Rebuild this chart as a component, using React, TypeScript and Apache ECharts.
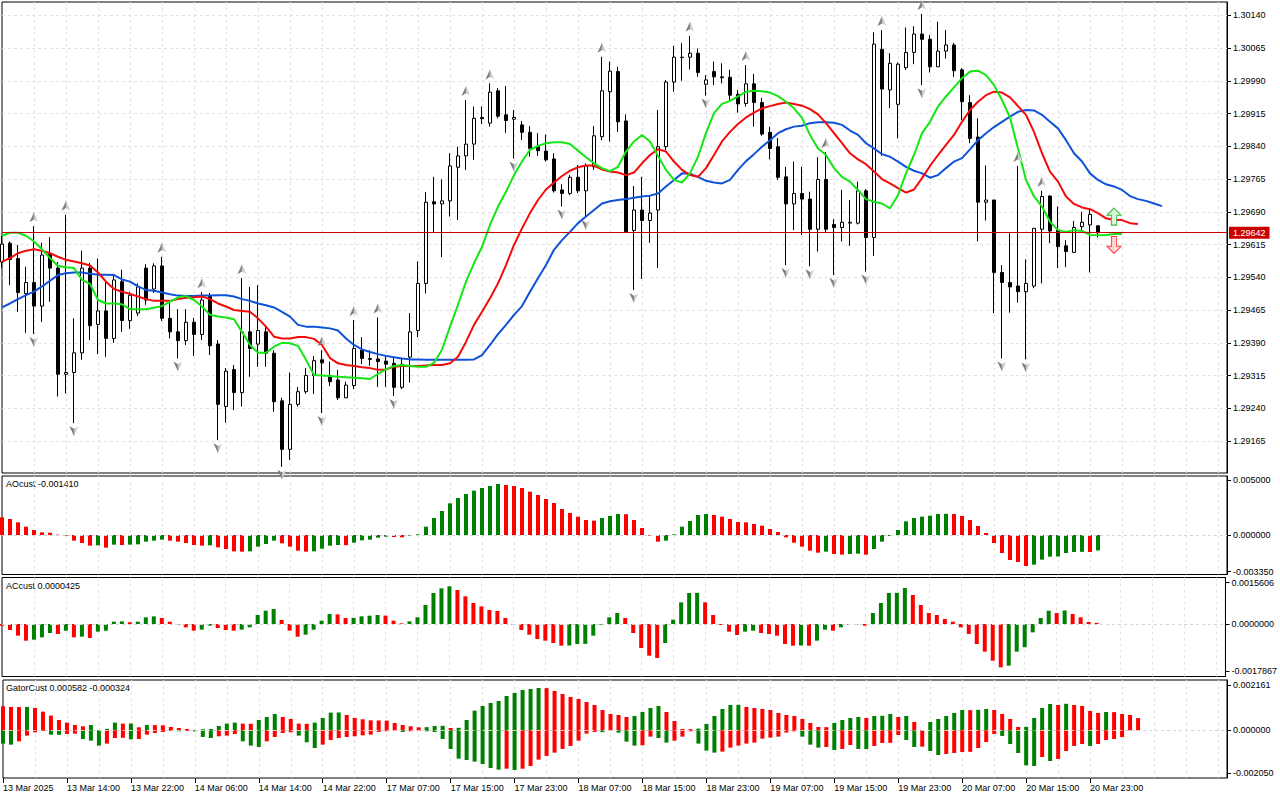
import React, { useEffect, useRef } from "react";
import * as echarts from "echarts";

const xTickLabels = ["13 Mar 2025","13 Mar 14:00","13 Mar 22:00","14 Mar 06:00","14 Mar 14:00","14 Mar 22:00","17 Mar 07:00","17 Mar 15:00","17 Mar 23:00","18 Mar 07:00","18 Mar 15:00","18 Mar 23:00","19 Mar 07:00","19 Mar 15:00","19 Mar 23:00","20 Mar 07:00","20 Mar 15:00","20 Mar 23:00"];
const xTickIndex = [0,8,16,24,32,40,48,56,64,72,80,88,96,104,112,120,128,136];
const xGridIndex = [4,8,12,16,20,24,28,32,36,40,44,48,52,56,60,64,68,72,76,80,84,88,92,96,100,104,108,112,116,120,124,128,132,136,140,144,148,152];
const priceTicks = [1.29165,1.2924,1.29315,1.2939,1.29465,1.2954,1.29615,1.2969,1.29765,1.2984,1.29915,1.2999,1.30065,1.3014];
const aoTicks = [0.005, 0, -0.00335];
const acTicks = [0.0015606, 0, -0.0017867];
const gatorTicks = [0.002161, 0, -0.00205];

const openP = [
1.29575,1.29618,1.29583,1.29503,1.29528,1.29474,1.29593,1.29561,1.29318,1.29322,
1.29367,1.29561,1.29432,1.29463,1.29400,1.29530,1.29441,1.29458,1.29561,1.29513,
1.29566,1.29446,1.29415,1.29395,1.29437,1.29409,1.29496,1.29387,1.29244,1.29329,
1.29276,1.29415,1.29387,1.29415,1.29366,1.29257,1.29146,1.29249,1.29278,1.29315,
1.29351,1.29315,1.29305,1.29264,1.29292,1.29373,1.29354,1.29353,1.29348,1.29343,
1.29288,1.29357,1.29418,1.29526,1.29713,1.29708,1.29715,1.29792,1.29818,1.29845,
1.29906,1.29893,1.29967,1.29912,1.29902,1.29889,1.29872,1.29839,1.29829,1.29811,
1.29740,1.29732,1.29769,1.29738,1.29793,1.29862,1.29965,1.30011,1.29898,1.29647,
1.29694,1.29670,1.29694,1.29839,1.29987,1.30043,1.30044,1.30053,1.29982,1.30011,
1.29999,1.29998,1.29959,1.29938,1.29983,1.29940,1.29872,1.29839,1.29770,1.29708,
1.29732,1.29719,1.29650,1.29764,1.29661,1.29654,1.29664,1.29664,1.29738,1.29631,
1.30062,1.29969,1.29936,1.30020,1.30055,1.30097,1.30085,1.30022,1.30058,1.30072,
1.30015,1.29940,1.29861,1.29712,1.29717,1.29551,1.29528,1.29520,1.29507,1.29520,
1.29650,1.29726,1.29648,1.29612,1.29597,1.29656,1.29660,1.29658];
const closeP = [
1.29616,1.29581,1.29505,1.29528,1.29474,1.29591,1.29561,1.29318,1.29322,1.29367,
1.29561,1.29429,1.29463,1.29400,1.29534,1.29441,1.29499,1.29518,1.29488,1.29566,
1.29446,1.29415,1.29395,1.29437,1.29409,1.29488,1.29383,1.29249,1.29325,1.29276,
1.29415,1.29377,1.29418,1.29366,1.29255,1.29146,1.29249,1.29278,1.29315,1.29349,
1.29344,1.29301,1.29264,1.29293,1.29377,1.29354,1.29352,1.29347,1.29341,1.29288,
1.29341,1.29415,1.29526,1.29712,1.29708,1.29715,1.29795,1.29818,1.29845,1.29904,
1.29903,1.29964,1.29909,1.29899,1.29906,1.29872,1.29835,1.29830,1.29809,1.29738,
1.29732,1.29769,1.29738,1.29795,1.29864,1.29967,1.30012,1.29896,1.29644,1.29694,
1.29670,1.29687,1.29839,1.29987,1.30044,1.30044,1.30053,1.30009,1.29992,1.29999,
1.29997,1.29957,1.29937,1.29983,1.29940,1.29868,1.29835,1.29769,1.29708,1.29732,
1.29719,1.29650,1.29764,1.29650,1.29654,1.29666,1.29666,1.29738,1.29631,1.30074,
1.29971,1.30030,1.30028,1.30055,1.30097,1.30085,1.30022,1.30058,1.30072,1.30013,
1.29942,1.29858,1.29712,1.29717,1.29551,1.29528,1.29518,1.29507,1.29526,1.29652,
1.29725,1.29646,1.29610,1.29599,1.29654,1.29666,1.29684,1.29642];
const highP = [
1.29635,1.29622,1.29614,1.29564,1.29657,1.29619,1.29632,1.29575,1.29683,1.29446,
1.29601,1.29573,1.29583,1.29534,1.29548,1.29557,1.29507,1.29526,1.29570,1.29572,
1.29587,1.29481,1.29467,1.29467,1.29447,1.29506,1.29504,1.29396,1.29332,1.29339,
1.29538,1.29518,1.29522,1.29427,1.29373,1.29264,1.29322,1.29289,1.29332,1.29360,
1.29373,1.29347,1.29328,1.29301,1.29442,1.29403,1.29373,1.29448,1.29362,1.29355,
1.29353,1.29458,1.29576,1.29735,1.29770,1.29764,1.29824,1.29839,1.29946,1.29931,
1.29931,1.29984,1.29973,1.29978,1.29923,1.29898,1.29886,1.29870,1.29867,1.29824,
1.29753,1.29774,1.29797,1.29801,1.29886,1.30045,1.30034,1.30022,1.29913,1.29749,
1.29770,1.29728,1.29923,1.29992,1.30070,1.30076,1.30093,1.30064,1.30003,1.30034,
1.30030,1.30015,1.29969,1.30026,1.30006,1.29951,1.29885,1.29859,1.29793,1.29805,
1.29793,1.29736,1.29815,1.29827,1.29673,1.29740,1.29717,1.29759,1.29742,1.30101,
1.30106,1.30053,1.30032,1.30112,1.30115,1.30143,1.30095,1.30125,1.30106,1.30077,
1.30019,1.29957,1.29904,1.29796,1.29717,1.29568,1.29641,1.29795,1.29581,1.29653,
1.29738,1.29728,1.29702,1.29625,1.29669,1.29690,1.29696,1.29658];
const lowP = [
1.29561,1.29522,1.29461,1.29413,1.29410,1.29438,1.29484,1.29267,1.29274,1.29206,
1.29351,1.29396,1.29364,1.29358,1.29390,1.29415,1.29422,1.29451,1.29477,1.29504,
1.29440,1.29400,1.29354,1.29385,1.29360,1.29396,1.29362,1.29167,1.29207,1.29236,
1.29244,1.29312,1.29335,1.29335,1.29232,1.29106,1.29122,1.29244,1.29273,1.29273,
1.29229,1.29291,1.29259,1.29264,1.29284,1.29341,1.29337,1.29289,1.29289,1.29268,
1.29284,1.29299,1.29403,1.29503,1.29644,1.29586,1.29679,1.29671,1.29786,1.29809,
1.29891,1.29885,1.29904,1.29871,1.29812,1.29854,1.29816,1.29818,1.29805,1.29734,
1.29702,1.29728,1.29733,1.29678,1.29786,1.29854,1.29851,1.29873,1.29644,1.29511,
1.29536,1.29619,1.29561,1.29831,1.29965,1.29990,1.30016,1.29999,1.29956,1.29980,
1.29984,1.29946,1.29917,1.29931,1.29885,1.29864,1.29810,1.29763,1.29568,1.29648,
1.29637,1.29565,1.29599,1.29644,1.29545,1.29622,1.29612,1.29661,1.29553,1.29589,
1.29818,1.29927,1.29858,1.30015,1.30028,1.29980,1.30009,1.30022,1.30041,1.29999,
1.29900,1.29847,1.29622,1.29670,1.29458,1.29354,1.29459,1.29482,1.29352,1.29515,
1.29526,1.29618,1.29561,1.29563,1.29596,1.29648,1.29551,1.29631];

const jaw = [
1.29471,1.29480,1.29490,1.29499,1.29507,1.29519,1.29532,1.29545,1.29549,1.29551,
1.29551,1.29548,1.29546,1.29546,1.29545,1.29535,1.29530,1.29519,1.29511,1.29509,
1.29505,1.29501,1.29498,1.29497,1.29497,1.29498,1.29498,1.29499,1.29499,1.29496,
1.29490,1.29486,1.29480,1.29476,1.29471,1.29461,1.29450,1.29431,1.29427,1.29427,
1.29425,1.29423,1.29418,1.29400,1.29385,1.29375,1.29369,1.29364,1.29360,1.29357,
1.29354,1.29352,1.29352,1.29351,1.29351,1.29351,1.29351,1.29351,1.29351,1.29352,
1.29362,1.29385,1.29410,1.29431,1.29454,1.29474,1.29507,1.29538,1.29568,1.29603,
1.29625,1.29644,1.29664,1.29679,1.29694,1.29709,1.29714,1.29717,1.29719,1.29722,
1.29725,1.29727,1.29732,1.29748,1.29763,1.29778,1.29777,1.29770,1.29761,1.29757,
1.29755,1.29763,1.29786,1.29806,1.29822,1.29839,1.29854,1.29870,1.29879,1.29885,
1.29887,1.29893,1.29895,1.29895,1.29894,1.29889,1.29876,1.29866,1.29847,1.29835,
1.29822,1.29816,1.29805,1.29793,1.29784,1.29778,1.29768,1.29774,1.29790,1.29805,
1.29813,1.29833,1.29854,1.29870,1.29884,1.29896,1.29908,1.29919,1.29923,1.29922,
1.29912,1.29896,1.29881,1.29854,1.29824,1.29805,1.29778,1.29763,1.29753,1.29748,
1.29740,1.29726,1.29719,1.29715,1.29709,1.29703];
const teeth = [
1.29576,1.29584,1.29595,1.29601,1.29604,1.29601,1.29595,1.29587,1.29580,1.29576,
1.29572,1.29567,1.29551,1.29530,1.29513,1.29507,1.29502,1.29496,1.29490,1.29486,
1.29486,1.29486,1.29490,1.29493,1.29494,1.29496,1.29490,1.29480,1.29473,1.29465,
1.29463,1.29461,1.29446,1.29427,1.29404,1.29400,1.29400,1.29403,1.29403,1.29399,
1.29385,1.29355,1.29343,1.29339,1.29337,1.29334,1.29332,1.29328,1.29329,1.29335,
1.29337,1.29337,1.29337,1.29338,1.29339,1.29339,1.29343,1.29358,1.29392,1.29431,
1.29461,1.29492,1.29526,1.29568,1.29614,1.29652,1.29687,1.29717,1.29741,1.29757,
1.29772,1.29784,1.29792,1.29796,1.29796,1.29787,1.29782,1.29780,1.29774,1.29780,
1.29801,1.29820,1.29833,1.29828,1.29805,1.29786,1.29774,1.29770,1.29790,1.29820,
1.29851,1.29873,1.29891,1.29906,1.29917,1.29927,1.29932,1.29937,1.29940,1.29937,
1.29933,1.29925,1.29913,1.29893,1.29870,1.29847,1.29824,1.29810,1.29799,1.29782,
1.29765,1.29755,1.29744,1.29734,1.29741,1.29767,1.29795,1.29820,1.29843,1.29866,
1.29896,1.29923,1.29942,1.29957,1.29965,1.29963,1.29952,1.29932,1.29912,1.29873,
1.29824,1.29782,1.29759,1.29725,1.29708,1.29700,1.29696,1.29687,1.29675,1.29671,
1.29671,1.29664,1.29662];
const lips = [
1.29635,1.29642,1.29642,1.29635,1.29622,1.29604,1.29584,1.29566,1.29563,1.29561,
1.29534,1.29525,1.29488,1.29480,1.29480,1.29478,1.29467,1.29467,1.29467,1.29470,
1.29474,1.29484,1.29494,1.29497,1.29488,1.29473,1.29454,1.29450,1.29448,1.29444,
1.29415,1.29385,1.29367,1.29367,1.29381,1.29390,1.29389,1.29383,1.29351,1.29316,
1.29315,1.29314,1.29312,1.29311,1.29310,1.29309,1.29307,1.29319,1.29329,1.29337,
1.29339,1.29337,1.29335,1.29335,1.29344,1.29374,1.29427,1.29477,1.29530,1.29572,
1.29610,1.29660,1.29702,1.29736,1.29774,1.29805,1.29832,1.29841,1.29847,1.29849,
1.29849,1.29845,1.29830,1.29815,1.29801,1.29790,1.29783,1.29793,1.29828,1.29851,
1.29866,1.29851,1.29818,1.29786,1.29763,1.29757,1.29778,1.29816,1.29870,1.29916,
1.29937,1.29944,1.29954,1.29965,1.29967,1.29966,1.29963,1.29955,1.29942,1.29927,
1.29905,1.29866,1.29835,1.29820,1.29790,1.29770,1.29759,1.29740,1.29719,1.29713,
1.29709,1.29698,1.29728,1.29778,1.29820,1.29870,1.29896,1.29931,1.29954,1.29975,
1.29996,1.30011,1.30013,1.30003,1.29980,1.29946,1.29906,1.29835,1.29763,1.29725,
1.29702,1.29667,1.29648,1.29644,1.29648,1.29646,1.29637,1.29636,1.29637,1.29639,
1.29639];

const upFractals = [4,8,20,25,30,40,44,47,58,61,75,86,93,103,110,115,127,130];
const downFractals = [4,9,22,27,35,40,49,64,70,73,79,88,98,101,104,108,115,125,128];
const lastPrice = 1.29642;
const signalUp = [139, 1.29679];
const signalDown = [139, 1.29614];

const aoValues = [
0.001615,0.001463,0.001158,0.000762,0.000457,0.000244,0.000213,0.000030,-0.000061,-0.000518,
-0.000731,-0.000975,-0.000945,-0.001158,-0.000884,-0.000914,-0.000884,-0.000853,-0.000609,-0.000518,
-0.000427,-0.000518,-0.000609,-0.000731,-0.000914,-0.000975,-0.000945,-0.001127,-0.001280,-0.001493,
-0.001524,-0.001493,-0.001066,-0.000823,-0.000518,-0.000762,-0.001066,-0.001432,-0.001524,-0.001493,
-0.001249,-0.000975,-0.000914,-0.000929,-0.000701,-0.000488,-0.000427,-0.000244,-0.000152,-0.000183,
-0.000213,-0.000061,0.000061,0.000762,0.001554,0.002194,0.002895,0.003382,0.003748,0.004053,
0.004296,0.004479,0.004662,0.004571,0.004479,0.004296,0.003961,0.003656,0.003291,0.002925,
0.002377,0.002011,0.001676,0.001371,0.001310,0.001554,0.001737,0.001920,0.001904,0.001371,
0.000640,-0.000061,-0.000609,-0.000518,0.000061,0.000762,0.001280,0.001828,0.001920,0.001828,
0.001676,0.001463,0.001188,0.001158,0.001006,0.000853,0.000548,0.000274,-0.000213,-0.000701,
-0.001066,-0.001432,-0.001615,-0.001524,-0.001737,-0.001798,-0.001737,-0.001706,-0.001798,-0.001280,
-0.000609,-0.000091,0.000457,0.001249,0.001554,0.001676,0.001767,0.001920,0.001935,0.001920,
0.001737,0.001371,0.000823,0.000183,-0.000731,-0.001645,-0.002285,-0.002468,-0.002834,-0.002712,
-0.002255,-0.001981,-0.001965,-0.001645,-0.001554,-0.001539,-0.001554,-0.001410];
const acValues = [
-0.000063,-0.000226,-0.000440,-0.000629,-0.000591,-0.000503,-0.000340,-0.000377,-0.000252,-0.000503,
-0.000478,-0.000528,-0.000289,-0.000252,0.000088,0.000101,0.000063,0.000088,0.000252,0.000289,
0.000226,0.000088,-0.000038,-0.000126,-0.000252,-0.000214,-0.000063,-0.000151,-0.000226,-0.000252,
-0.000214,-0.000126,0.000340,0.000503,0.000566,0.000151,-0.000252,-0.000478,-0.000403,-0.000214,
0.000126,0.000377,0.000365,0.000226,0.000233,0.000289,0.000315,0.000340,0.000315,0.000126,
0.000025,0.000101,0.000252,0.000717,0.001170,0.001346,0.001422,0.001283,0.001044,0.000793,
0.000667,0.000528,0.000491,0.000226,-0.000025,-0.000226,-0.000403,-0.000566,-0.000629,-0.000717,
-0.000818,-0.000811,-0.000755,-0.000749,-0.000440,-0.000025,0.000252,0.000415,0.000226,-0.000340,
-0.000906,-0.001195,-0.001283,-0.000717,0.000164,0.000818,0.001170,0.001176,0.000818,0.000340,
-0.000038,-0.000289,-0.000415,-0.000289,-0.000252,-0.000340,-0.000377,-0.000440,-0.000755,-0.000818,
-0.000811,-0.000818,-0.000629,-0.000214,-0.000252,-0.000126,-0.000025,-0.000013,-0.000063,0.000415,
0.000793,0.001170,0.001176,0.001359,0.001094,0.000717,0.000415,0.000340,0.000189,0.000088,
-0.000126,-0.000377,-0.000755,-0.001044,-0.001384,-0.001635,-0.001573,-0.001044,-0.000881,-0.000315,
0.000226,0.000503,0.000415,0.000509,0.000377,0.000252,0.000075,0.0000425];
const gatorUp = [
0.001145,0.001113,0.001105,0.001116,0.001065,0.000890,0.000700,0.000493,0.000366,0.000254,
0.000191,0.000254,0.000016,0.000064,0.000366,0.000318,0.000326,0.000143,0.000254,0.000246,
0.000239,0.000159,0.000111,0.000064,0.000016,0.000048,0.000064,0.000207,0.000318,0.000366,
0.000318,0.000310,0.000493,0.000636,0.000779,0.000636,0.000541,0.000318,0.000310,0.000366,
0.000588,0.000843,0.000851,0.000731,0.000588,0.000525,0.000477,0.000469,0.000461,0.000350,
0.000254,0.000191,0.000143,0.000151,0.000207,0.000215,0.000111,0.000119,0.000493,0.000938,
0.001161,0.001304,0.001399,0.001638,0.001781,0.001924,0.001972,0.002019,0.002011,0.001876,
0.001733,0.001590,0.001495,0.001352,0.001208,0.000970,0.000779,0.000731,0.000636,0.000684,
0.000875,0.001065,0.001161,0.000875,0.000445,0.000064,0.000056,0.000080,0.000302,0.000684,
0.001018,0.001208,0.001216,0.001113,0.001065,0.001018,0.000970,0.000827,0.000731,0.000684,
0.000541,0.000350,0.000159,0.000151,0.000350,0.000493,0.000588,0.000636,0.000588,0.000684,
0.000692,0.000779,0.000636,0.000684,0.000398,0.000008,0.000398,0.000541,0.000684,0.000827,
0.000970,0.000962,0.000978,0.001018,0.000970,0.000779,0.000541,0.000159,0.000167,0.000588,
0.001065,0.001256,0.001208,0.001264,0.001208,0.001161,0.000922,0.000827,0.000875,0.000867,
0.000779,0.000731,0.000582];
const gatorDown = [
-0.000636,-0.000684,-0.000525,-0.000254,-0.000095,-0.000032,-0.000207,-0.000215,-0.000175,-0.000159,
-0.000413,-0.000493,-0.000731,-0.000636,-0.000366,-0.000358,-0.000429,-0.000413,-0.000207,-0.000127,
-0.000080,-0.000032,-0.000048,-0.000040,-0.000048,-0.000318,-0.000366,-0.000286,-0.000254,-0.000175,
-0.000525,-0.000731,-0.000795,-0.000525,-0.000318,-0.000127,-0.000095,-0.000254,-0.000572,-0.000843,
-0.000684,-0.000461,-0.000366,-0.000318,-0.000286,-0.000239,-0.000207,-0.000080,-0.000048,-0.000016,
-0.000080,-0.000048,-0.000040,-0.000048,-0.000080,-0.000413,-0.000890,-0.001352,-0.001415,-0.001495,
-0.001606,-0.001797,-0.001876,-0.001829,-0.001892,-0.001829,-0.001701,-0.001399,-0.001224,-0.001065,
-0.000890,-0.000747,-0.000493,-0.000159,-0.000080,-0.000087,-0.000016,-0.000111,-0.000541,-0.000731,
-0.000716,-0.000302,-0.000366,-0.000588,-0.000493,-0.000302,-0.000048,-0.000636,-0.000970,-0.001065,
-0.001018,-0.000827,-0.000731,-0.000636,-0.000588,-0.000398,-0.000350,-0.000302,-0.000111,-0.000048,
-0.000302,-0.000684,-0.000827,-0.000795,-0.000938,-0.000890,-0.000700,-0.000890,-0.000898,-0.000747,
-0.000604,-0.000596,-0.000223,-0.000461,-0.000795,-0.000779,-0.000986,-0.001177,-0.001129,-0.001081,
-0.001034,-0.001026,-0.000843,-0.000557,-0.000175,-0.000270,-0.000652,-0.001081,-0.001670,-0.001701,
-0.001272,-0.001463,-0.001367,-0.000986,-0.000747,-0.000652,-0.000747,-0.000652,-0.000461,-0.000413,
-0.000324];

const GREEN = "#008000";
const RED = "#ff0000";
const FONT = '"Liberation Sans", Arial, sans-serif';

function coloredBars(vals: number[], firstColor: string, useAbs: boolean) {
  return vals.map((v, i) => {
    let c = firstColor;
    if (i > 0) {
      const a = useAbs ? Math.abs(v) : v;
      const b = useAbs ? Math.abs(vals[i - 1]) : vals[i - 1];
      c = a > b ? GREEN : RED;
    }
    return { value: [i, v], itemStyle: { color: c } };
  });
}

export default function App() {
  const ref = useRef<HTMLDivElement>(null);
  useEffect(() => {
    document.body.style.margin = "0";
    const chart = echarts.init(ref.current!, null, { renderer: "svg" });
    const gridBase = { left: 2, width: 1225, show: true, borderColor: "#000", borderWidth: 1, backgroundColor: "#fff" };
    const grids = [
      { ...gridBase, top: 2, height: 471 },
      { ...gridBase, top: 476, height: 98.5 },
      { ...gridBase, top: 577.5, height: 99 },
      { ...gridBase, top: 680, height: 98 },
    ];
    const xMin = 0;
    const xMax = 153.125;
    const splitX = (gi: number) => ({
      type: "value", gridIndex: gi, min: xMin, max: xMax, position: gi === 3 ? "top" : "bottom",
      axisLine: { show: false, onZero: false }, axisLabel: { show: false },
      axisTick: { show: false, customValues: xGridIndex },
      splitLine: { show: true, lineStyle: { color: "#e2e2e2", type: [3, 3], width: 1 } },
    });
    const yAx = (gi: number, min: number, max: number, ticks: number[], digits: number, split: boolean) => ({
      type: "value", gridIndex: gi, min, max, position: "right",
      axisLine: { show: true, onZero: false, lineStyle: { color: "#000" } },
      axisTick: { show: true, length: 4, customValues: ticks, lineStyle: { color: "#000" } },
      axisLabel: { show: true, customValues: ticks, margin: 6, fontSize: 9, fontFamily: FONT, color: "#000",
        formatter: (v: number) => v.toFixed(digits) },
      splitLine: { show: split, lineStyle: { color: "#e2e2e2", type: [3, 3], width: 1 } },
    });
    const zeroLine = {
      silent: true, symbol: "none", label: { show: false }, precision: 8,
      lineStyle: { color: "#d4d4d4", type: [3, 3], width: 1 },
      data: [{ yAxis: 0 }],
    };
    const fractalColor = new echarts.graphic.LinearGradient(0, 0, 1, 0, [
      { offset: 0, color: "#6a6a6a" }, { offset: 0.5, color: "#8c8c8c" },
      { offset: 0.52, color: "#c4c4c4" }, { offset: 1, color: "#e4e4e4" },
    ]);

    const option: any = {
      animation: false,
      backgroundColor: "#fff",
      grid: grids,
      xAxis: [
        splitX(0), splitX(1), splitX(2), splitX(3),
        {
          type: "value", gridIndex: 3, min: xMin, max: xMax, position: "bottom",
          axisLine: { show: false, onZero: false },
          axisTick: { show: true, length: 5, customValues: xTickIndex, lineStyle: { color: "#000" } },
          axisLabel: { show: true, customValues: xTickIndex, align: "left", margin: 5, fontSize: 9, fontFamily: FONT, color: "#000",
            showMinLabel: true, showMaxLabel: true,
            formatter: (v: number) => xTickLabels[xTickIndex.indexOf(Math.round(v))] ?? "" },
          splitLine: { show: false },
        },
      ],
      yAxis: [
        yAx(0, 1.290918, 1.301704, priceTicks, 5, true),
        yAx(1, -0.003611, 0.005393, aoTicks, 6, false),
        yAx(2, -0.001981, 0.001755, acTicks, 7, false),
        yAx(3, -0.002275, 0.002399, gatorTicks, 6, false),
      ],
      graphic: [
        { type: "text", left: 6, top: 479, style: { text: "AOcust -0.001410", font: `9px ${FONT}`, fill: "#000" } },
        { type: "text", left: 6, top: 581.5, style: { text: "ACcust 0.0000425", font: `9px ${FONT}`, fill: "#000" } },
        { type: "text", left: 6, top: 683.5, style: { text: "GatorCust 0.000582 -0.000324", font: `9px ${FONT}`, fill: "#000" } },
      ],
      series: [
        {
          type: "candlestick", xAxisIndex: 0, yAxisIndex: 0, barWidth: 4,
          data: openP.map((o, i) => [i, o, closeP[i], lowP[i], highP[i]]),
          encode: { x: 0, y: [1, 2, 3, 4] },
          itemStyle: { color: "#fff", color0: "#000", borderColor: "#000", borderColor0: "#000", borderColorDoji: "#000", borderWidth: 1 },
        },
        { type: "line", xAxisIndex: 0, yAxisIndex: 0, data: jaw.map((v, i) => [i, v]), showSymbol: false, symbol: "none",
          lineStyle: { color: "#0d52d8", width: 2 }, z: 3,
          markLine: {
            silent: true, symbol: "none", precision: 5,
            lineStyle: { color: "#cc0000", type: "solid", width: 1 },
            label: { show: true, position: "end", distance: 2, formatter: lastPrice.toFixed(5), color: "#fff",
              backgroundColor: "#c80000", padding: [2, 4, 1, 4], fontSize: 9, fontFamily: FONT },
            data: [{ yAxis: lastPrice }],
          },
        },
        { type: "line", xAxisIndex: 0, yAxisIndex: 0, data: teeth.map((v, i) => [i, v]), showSymbol: false, symbol: "none",
          lineStyle: { color: "#f50a0a", width: 2 }, z: 3 },
        { type: "line", xAxisIndex: 0, yAxisIndex: 0, data: lips.map((v, i) => [i, v]), showSymbol: false, symbol: "none",
          lineStyle: { color: "#14e614", width: 2 }, z: 3 },
        { type: "scatter", xAxisIndex: 0, yAxisIndex: 0, symbol: "path://M5,0L10,11L5,8L0,11Z", symbolSize: [9, 10],
          symbolOffset: [0, -9], data: upFractals.map((i) => [i, highP[i]]), itemStyle: { color: fractalColor, opacity: 1 }, z: 4 },
        { type: "scatter", xAxisIndex: 0, yAxisIndex: 0, symbol: "path://M0,0L5,3L10,0L5,11Z", symbolSize: [9, 10],
          symbolOffset: [0, 8], data: downFractals.map((i) => [i, lowP[i]]), itemStyle: { color: fractalColor, opacity: 1 }, z: 4 },
        { type: "scatter", xAxisIndex: 0, yAxisIndex: 0, symbol: "path://M8,0L16,8L11,8L11,19L5,19L5,8L0,8Z", symbolSize: [14, 17],
          data: [signalUp], z: 4,
          itemStyle: { color: new echarts.graphic.LinearGradient(0, 0, 1, 0, [{ offset: 0, color: "#bfeebf" }, { offset: 1, color: "#f4fff4" }]),
            borderColor: "#3cb83c", borderWidth: 1, opacity: 1 } },
        { type: "scatter", xAxisIndex: 0, yAxisIndex: 0, symbol: "path://M5,0L11,0L11,11L16,11L8,19L0,11L5,11Z", symbolSize: [14, 17],
          data: [signalDown], z: 4,
          itemStyle: { color: new echarts.graphic.LinearGradient(0, 0, 1, 0, [{ offset: 0, color: "#ffb4b4" }, { offset: 1, color: "#fff2f2" }]),
            borderColor: "#ff3c3c", borderWidth: 1, opacity: 1 } },
        { type: "bar", xAxisIndex: 1, yAxisIndex: 1, barWidth: 4, data: coloredBars(aoValues, RED, false), markLine: zeroLine },
        { type: "bar", xAxisIndex: 2, yAxisIndex: 2, barWidth: 4, data: coloredBars(acValues, RED, false), markLine: zeroLine },
        { type: "bar", xAxisIndex: 3, yAxisIndex: 3, barWidth: 4, stack: "gator", data: coloredBars(gatorUp, RED, true), markLine: zeroLine },
        { type: "bar", xAxisIndex: 3, yAxisIndex: 3, barWidth: 4, stack: "gator", data: coloredBars(gatorDown, GREEN, true) },
      ],
    };
    chart.setOption(option);
    return () => chart.dispose();
  }, []);
  return <div ref={ref} style={{ width: 1280, height: 800, background: "#fff" }} />;
}
